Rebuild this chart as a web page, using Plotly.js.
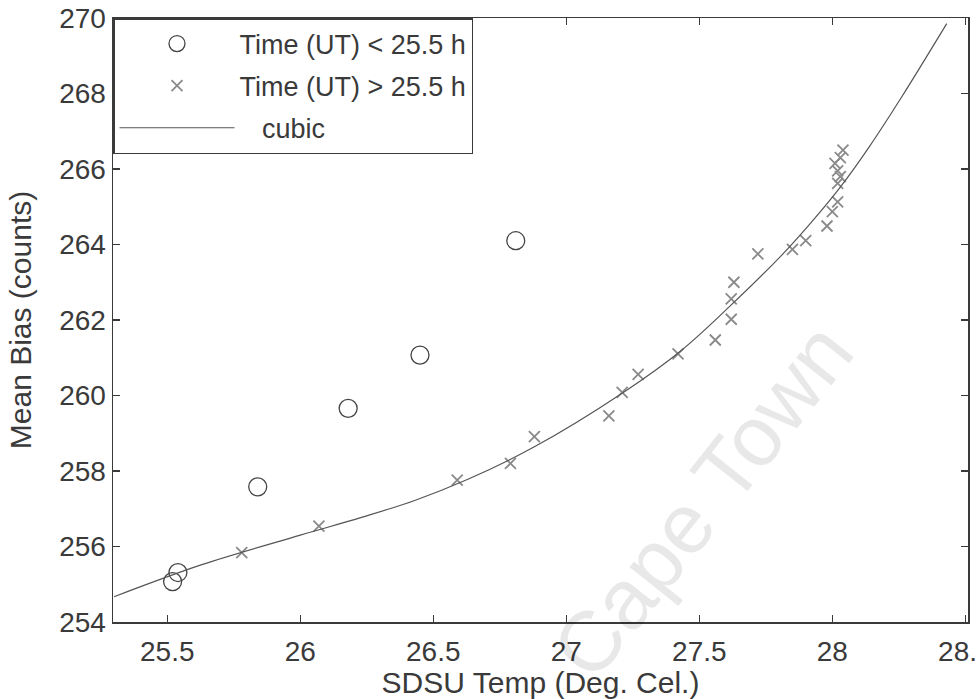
<!DOCTYPE html>
<html>
<head>
<meta charset="utf-8">
<script src="https://cdn.plot.ly/plotly-3.0.1.min.js"></script>
<style>html,body{margin:0;padding:0;background:#fff;}#chart{width:977px;height:699px;}</style>
</head>
<body>
<div id="chart"></div>
<script>
// Time (UT) < 25.5 h  (open circles)
const earlyTemp = [25.52, 25.54, 25.84, 26.18, 26.45, 26.81];
const earlyBias = [255.07, 255.31, 257.58, 259.66, 261.07, 264.10];

// Time (UT) > 25.5 h  (crosses)
const lateTemp = [25.78, 26.07, 26.59, 26.79, 26.88, 27.16, 27.21, 27.27, 27.42, 27.56,
                  27.62, 27.62, 27.63, 27.72, 27.85, 27.90, 27.98, 28.00, 28.02, 28.02,
                  28.03, 28.02, 28.01, 28.03, 28.04];
const lateBias = [255.84, 256.54, 257.76, 258.20, 258.91, 259.46, 260.08, 260.56, 261.10, 261.47,
                  262.02, 262.56, 263.00, 263.75, 263.87, 264.10, 264.49, 264.87, 265.13, 265.62,
                  265.80, 265.95, 266.15, 266.30, 266.50];

// cubic fit curve
const cubicTemp = [25.30, 25.63, 26.00, 26.23, 26.43, 26.63, 26.88, 27.21, 27.43, 27.62,
                   27.81, 27.92, 28.03, 28.14, 28.26, 28.43];
const cubicBias = [254.67, 255.52, 256.30, 256.77, 257.22, 257.78, 258.64, 260.06, 261.18, 262.40,
                   263.72, 264.58, 265.52, 266.60, 267.90, 269.85];

const xTicks = [25.5, 26, 26.5, 27, 27.5, 28, 28.5];
const xTickText = ['25.5', '26', '26.5', '27', '27.5', '28', '28.5'];
const yTicks = [254, 256, 258, 260, 262, 264, 266, 268, 270];

const FONT = 'Liberation Sans, Arial, Helvetica, sans-serif';
const INK = '#3a3a3a';

const traces = [
  {
    x: earlyTemp, y: earlyBias, type: 'scatter', mode: 'markers',
    name: 'Time (UT) < 25.5 h', legendgroup: 'a',
    marker: {symbol: 'circle-open', size: 18, color: '#444', line: {width: 1.3, color: '#444'}}
  },
  {
    x: lateTemp, y: lateBias, type: 'scatter', mode: 'markers',
    name: 'Time (UT) > 25.5 h', legendgroup: 'b',
    marker: {symbol: 'x-thin-open', size: 11, color: '#8a8a8a', line: {width: 1.8, color: '#8a8a8a'}}
  },
  {
    x: cubicTemp, y: cubicBias, type: 'scatter', mode: 'lines',
    name: '\u00a0\u00a0\u00a0cubic', legendgroup: 'c',
    line: {color: '#555', width: 1.2, shape: 'spline', smoothing: 1.0}
  }
];

const axisCommon = {
  showgrid: false, zeroline: false, showline: true, mirror: 'ticks',
  linecolor: INK, linewidth: 1.5, ticks: 'inside', ticklen: 7, tickwidth: 1.5,
  tickcolor: INK, tickfont: {family: FONT, size: 28, color: INK},
  ticklabeloverflow: 'allow'
};

const layout = {
  width: 977, height: 699,
  margin: {l: 113, r: 9, t: 18, b: 77},
  paper_bgcolor: '#fff', plot_bgcolor: '#fff',
  showlegend: true,
  xaxis: Object.assign({}, axisCommon, {
    range: [25.296, 28.51], tickvals: xTicks, ticktext: xTickText,
    ticklabelstandoff: 4,
    title: {text: 'SDSU Temp (Deg. Cel.)', font: {family: FONT, size: 30, color: INK}, standoff: 3}
  }),
  yaxis: Object.assign({}, axisCommon, {
    range: [254, 270], tickvals: yTicks,
    title: {text: 'Mean Bias (counts)', font: {family: FONT, size: 30, color: INK}, standoff: 18}
  }),
  legend: {
    x: 0, y: 1, xanchor: 'left', yanchor: 'top',
    bgcolor: '#fff', bordercolor: INK, borderwidth: 1.5,
    font: {family: FONT, size: 27, color: INK},
    traceorder: 'grouped', tracegroupgap: 4, itemwidth: 115
  },
  annotations: [{
    text: 'Cape Town', x: 27.51, y: 257.23, xref: 'x', yref: 'y',
    showarrow: false, textangle: -51.5,
    font: {family: FONT, size: 85, color: 'rgba(0,0,0,0.09)'}
  }]
};

Plotly.newPlot('chart', traces, layout, {displayModeBar: false, staticPlot: true});
</script>
</body>
</html>
